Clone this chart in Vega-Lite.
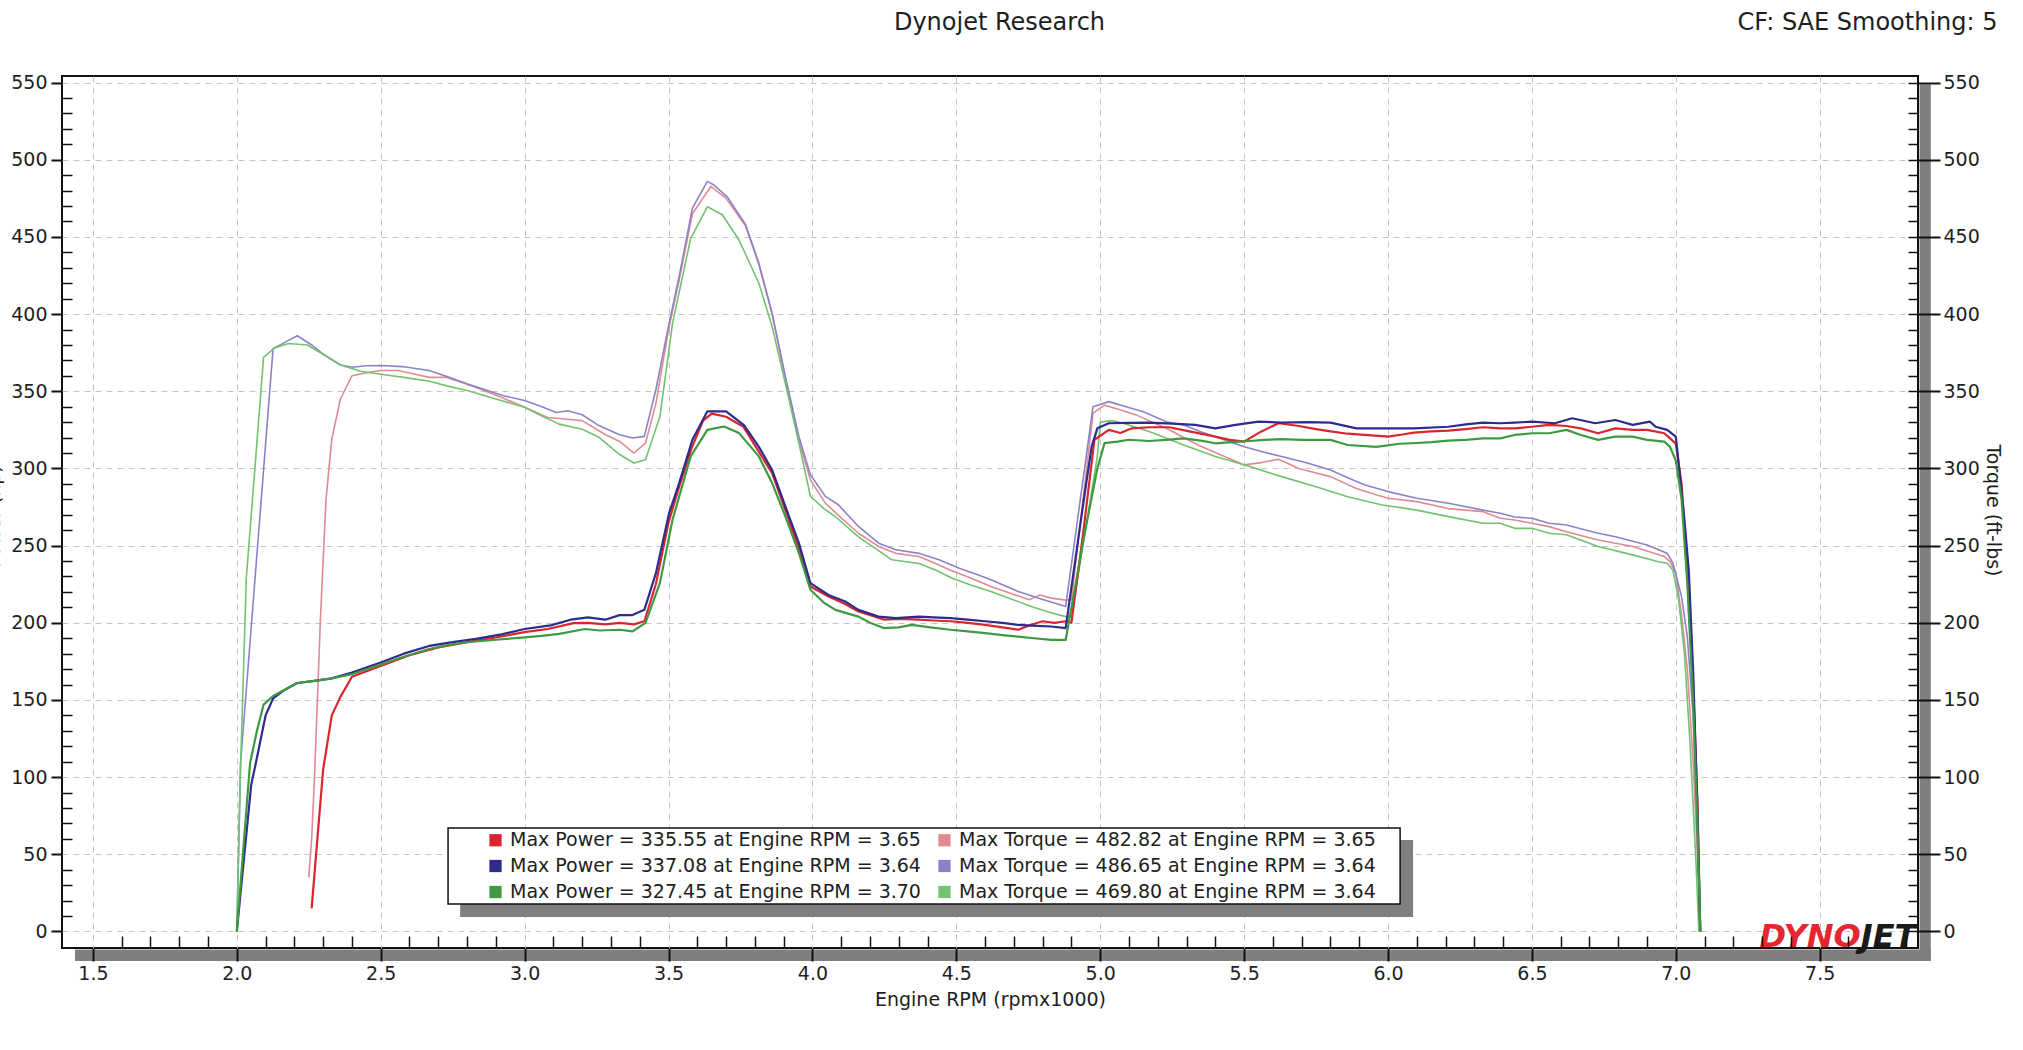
{
"$schema":"https://vega.github.io/schema/vega-lite/v6.json",
"width":1856,"height":872,
"autosize":{"type":"none"},
"padding":{"left":62,"top":76,"right":105,"bottom":102},
"background":"white",
"datasets":{
"labels":[
{"k":"P1","kind":"Power","label":"Max Power = 335.55 at Engine RPM = 3.65"},
{"k":"T1","kind":"Torque","label":"Max Torque = 482.82 at Engine RPM = 3.65"},
{"k":"P2","kind":"Power","label":"Max Power = 337.08 at Engine RPM = 3.64"},
{"k":"T2","kind":"Torque","label":"Max Torque = 486.65 at Engine RPM = 3.64"},
{"k":"P3","kind":"Power","label":"Max Power = 327.45 at Engine RPM = 3.70"},
{"k":"T3","kind":"Torque","label":"Max Torque = 469.80 at Engine RPM = 3.64"}
],
"curves":[
{"k":"P1","x":2.26,"y":15},{"k":"P1","x":2.28,"y":60},{"k":"P1","x":2.30,"y":105},{"k":"P1","x":2.33,"y":140},{"k":"P1","x":2.36,"y":152},{"k":"P1","x":2.40,"y":165},{"k":"P1","x":2.50,"y":172},{"k":"P1","x":2.60,"y":179},{"k":"P1","x":2.70,"y":184},{"k":"P1","x":2.83,"y":188.5},{"k":"P1","x":2.90,"y":190.5},{"k":"P1","x":3.00,"y":194},{"k":"P1","x":3.08,"y":196},{"k":"P1","x":3.17,"y":199.8},{"k":"P1","x":3.22,"y":200},{"k":"P1","x":3.28,"y":199},{"k":"P1","x":3.33,"y":200},{"k":"P1","x":3.38,"y":199},{"k":"P1","x":3.416,"y":201},{"k":"P1","x":3.456,"y":225},{"k":"P1","x":3.50,"y":265},{"k":"P1","x":3.54,"y":290},{"k":"P1","x":3.58,"y":313},{"k":"P1","x":3.62,"y":331},{"k":"P1","x":3.65,"y":335.5},{"k":"P1","x":3.70,"y":333.5},{"k":"P1","x":3.76,"y":327},{"k":"P1","x":3.81,"y":312},{"k":"P1","x":3.86,"y":297},{"k":"P1","x":3.906,"y":273},{"k":"P1","x":3.953,"y":248},{"k":"P1","x":3.993,"y":223.5},{"k":"P1","x":4.056,"y":217},{"k":"P1","x":4.11,"y":212.5},{"k":"P1","x":4.16,"y":207.3},{"k":"P1","x":4.25,"y":202},{"k":"P1","x":4.30,"y":202.5},{"k":"P1","x":4.37,"y":202},{"k":"P1","x":4.42,"y":201.5},{"k":"P1","x":4.48,"y":201},{"k":"P1","x":4.54,"y":200},{"k":"P1","x":4.60,"y":198.7},{"k":"P1","x":4.66,"y":197},{"k":"P1","x":4.715,"y":195.5},{"k":"P1","x":4.76,"y":198.7},{"k":"P1","x":4.80,"y":201},{"k":"P1","x":4.84,"y":200},{"k":"P1","x":4.88,"y":201},{"k":"P1","x":4.90,"y":200},{"k":"P1","x":4.94,"y":257},{"k":"P1","x":4.98,"y":318.6},{"k":"P1","x":5.03,"y":325},{"k":"P1","x":5.07,"y":323},{"k":"P1","x":5.11,"y":326},{"k":"P1","x":5.17,"y":326.7},{"k":"P1","x":5.24,"y":326.7},{"k":"P1","x":5.31,"y":324},{"k":"P1","x":5.40,"y":320.6},{"k":"P1","x":5.45,"y":318.5},{"k":"P1","x":5.50,"y":317.4},{"k":"P1","x":5.56,"y":324},{"k":"P1","x":5.62,"y":329.3},{"k":"P1","x":5.69,"y":327.5},{"k":"P1","x":5.75,"y":325.5},{"k":"P1","x":5.80,"y":324},{"k":"P1","x":5.86,"y":322.5},{"k":"P1","x":5.92,"y":321.7},{"k":"P1","x":6.00,"y":320.6},{"k":"P1","x":6.05,"y":322},{"k":"P1","x":6.09,"y":323.2},{"k":"P1","x":6.15,"y":324},{"k":"P1","x":6.21,"y":324.5},{"k":"P1","x":6.27,"y":325.5},{"k":"P1","x":6.33,"y":326.7},{"k":"P1","x":6.39,"y":326},{"k":"P1","x":6.44,"y":326},{"k":"P1","x":6.50,"y":327},{"k":"P1","x":6.56,"y":328.2},{"k":"P1","x":6.62,"y":327.5},{"k":"P1","x":6.67,"y":326},{"k":"P1","x":6.73,"y":322.8},{"k":"P1","x":6.79,"y":326},{"k":"P1","x":6.85,"y":325},{"k":"P1","x":6.90,"y":325},{"k":"P1","x":6.96,"y":322.8},{"k":"P1","x":6.98,"y":319.5},{"k":"P1","x":7.00,"y":316},{"k":"P1","x":7.02,"y":290},{"k":"P1","x":7.04,"y":235},{"k":"P1","x":7.06,"y":160},{"k":"P1","x":7.075,"y":85},{"k":"P1","x":7.085,"y":0},
{"k":"P2","x":2.00,"y":0},{"k":"P2","x":2.05,"y":95},{"k":"P2","x":2.066,"y":109},{"k":"P2","x":2.10,"y":140},{"k":"P2","x":2.126,"y":151},{"k":"P2","x":2.17,"y":157},{"k":"P2","x":2.21,"y":161},{"k":"P2","x":2.27,"y":162.4},{"k":"P2","x":2.33,"y":164},{"k":"P2","x":2.40,"y":167.8},{"k":"P2","x":2.45,"y":171},{"k":"P2","x":2.50,"y":174.3},{"k":"P2","x":2.58,"y":180},{"k":"P2","x":2.668,"y":185},{"k":"P2","x":2.75,"y":187.5},{"k":"P2","x":2.83,"y":189.6},{"k":"P2","x":2.92,"y":192.5},{"k":"P2","x":3.00,"y":196},{"k":"P2","x":3.09,"y":198.3},{"k":"P2","x":3.16,"y":202},{"k":"P2","x":3.22,"y":203.5},{"k":"P2","x":3.28,"y":202},{"k":"P2","x":3.33,"y":205},{"k":"P2","x":3.375,"y":205},{"k":"P2","x":3.416,"y":208.4},{"k":"P2","x":3.456,"y":232},{"k":"P2","x":3.502,"y":271},{"k":"P2","x":3.537,"y":290.5},{"k":"P2","x":3.583,"y":318.6},{"k":"P2","x":3.635,"y":337},{"k":"P2","x":3.70,"y":337},{"k":"P2","x":3.762,"y":328},{"k":"P2","x":3.814,"y":314},{"k":"P2","x":3.86,"y":299},{"k":"P2","x":3.906,"y":275.4},{"k":"P2","x":3.953,"y":251.6},{"k":"P2","x":3.993,"y":225.7},{"k":"P2","x":4.056,"y":218},{"k":"P2","x":4.114,"y":213.8},{"k":"P2","x":4.16,"y":208.4},{"k":"P2","x":4.23,"y":204},{"k":"P2","x":4.29,"y":203},{"k":"P2","x":4.37,"y":204},{"k":"P2","x":4.42,"y":203.5},{"k":"P2","x":4.48,"y":203},{"k":"P2","x":4.54,"y":202},{"k":"P2","x":4.60,"y":201},{"k":"P2","x":4.66,"y":200},{"k":"P2","x":4.715,"y":198.7},{"k":"P2","x":4.78,"y":198},{"k":"P2","x":4.83,"y":197.6},{"k":"P2","x":4.88,"y":196.5},{"k":"P2","x":4.934,"y":268},{"k":"P2","x":4.97,"y":314},{"k":"P2","x":4.99,"y":326},{"k":"P2","x":5.03,"y":329.3},{"k":"P2","x":5.10,"y":329.5},{"k":"P2","x":5.17,"y":329.7},{"k":"P2","x":5.25,"y":329},{"k":"P2","x":5.33,"y":328.2},{"k":"P2","x":5.40,"y":326},{"k":"P2","x":5.47,"y":328.2},{"k":"P2","x":5.55,"y":330.3},{"k":"P2","x":5.63,"y":329.7},{"k":"P2","x":5.72,"y":330},{"k":"P2","x":5.80,"y":329.7},{"k":"P2","x":5.89,"y":326},{"k":"P2","x":5.98,"y":326},{"k":"P2","x":6.09,"y":326},{"k":"P2","x":6.21,"y":327},{"k":"P2","x":6.27,"y":328.5},{"k":"P2","x":6.33,"y":329.7},{"k":"P2","x":6.39,"y":329.3},{"k":"P2","x":6.44,"y":329.7},{"k":"P2","x":6.50,"y":330.3},{"k":"P2","x":6.58,"y":329.3},{"k":"P2","x":6.64,"y":332.5},{"k":"P2","x":6.72,"y":329.3},{"k":"P2","x":6.79,"y":331.4},{"k":"P2","x":6.85,"y":328.2},{"k":"P2","x":6.91,"y":330.3},{"k":"P2","x":6.93,"y":327},{"k":"P2","x":6.97,"y":325},{"k":"P2","x":7.00,"y":320.6},{"k":"P2","x":7.01,"y":303},{"k":"P2","x":7.03,"y":266.6},{"k":"P2","x":7.045,"y":234},{"k":"P2","x":7.06,"y":170},{"k":"P2","x":7.075,"y":80},{"k":"P2","x":7.085,"y":0},
{"k":"P3","x":2.00,"y":0},{"k":"P3","x":2.046,"y":109},{"k":"P3","x":2.07,"y":130},{"k":"P3","x":2.093,"y":147},{"k":"P3","x":2.126,"y":152.6},{"k":"P3","x":2.17,"y":157},{"k":"P3","x":2.21,"y":161},{"k":"P3","x":2.27,"y":162.4},{"k":"P3","x":2.33,"y":164},{"k":"P3","x":2.40,"y":166.7},{"k":"P3","x":2.50,"y":173},{"k":"P3","x":2.58,"y":178},{"k":"P3","x":2.668,"y":183},{"k":"P3","x":2.73,"y":185.5},{"k":"P3","x":2.80,"y":187.4},{"k":"P3","x":2.90,"y":189},{"k":"P3","x":3.00,"y":190.6},{"k":"P3","x":3.06,"y":191.5},{"k":"P3","x":3.12,"y":192.8},{"k":"P3","x":3.21,"y":196},{"k":"P3","x":3.26,"y":195},{"k":"P3","x":3.33,"y":195.5},{"k":"P3","x":3.375,"y":194.4},{"k":"P3","x":3.42,"y":200},{"k":"P3","x":3.47,"y":225.7},{"k":"P3","x":3.514,"y":266.8},{"k":"P3","x":3.577,"y":307.8},{"k":"P3","x":3.635,"y":325},{"k":"P3","x":3.693,"y":327.2},{"k":"P3","x":3.745,"y":322.9},{"k":"P3","x":3.814,"y":307.8},{"k":"P3","x":3.86,"y":290.5},{"k":"P3","x":3.906,"y":269},{"k":"P3","x":3.953,"y":245.2},{"k":"P3","x":3.993,"y":221.4},{"k":"P3","x":4.04,"y":213},{"k":"P3","x":4.08,"y":208.4},{"k":"P3","x":4.16,"y":204},{"k":"P3","x":4.20,"y":200},{"k":"P3","x":4.25,"y":196.5},{"k":"P3","x":4.30,"y":197},{"k":"P3","x":4.345,"y":198.7},{"k":"P3","x":4.41,"y":197},{"k":"P3","x":4.48,"y":195.5},{"k":"P3","x":4.54,"y":194.5},{"k":"P3","x":4.60,"y":193.3},{"k":"P3","x":4.66,"y":192},{"k":"P3","x":4.715,"y":191},{"k":"P3","x":4.77,"y":190},{"k":"P3","x":4.83,"y":188.9},{"k":"P3","x":4.88,"y":188.9},{"k":"P3","x":4.945,"y":257},{"k":"P3","x":4.99,"y":300},{"k":"P3","x":5.015,"y":316.4},{"k":"P3","x":5.06,"y":317.4},{"k":"P3","x":5.10,"y":318.6},{"k":"P3","x":5.17,"y":317.8},{"k":"P3","x":5.23,"y":318.5},{"k":"P3","x":5.29,"y":319.5},{"k":"P3","x":5.35,"y":318},{"k":"P3","x":5.40,"y":316.3},{"k":"P3","x":5.46,"y":317},{"k":"P3","x":5.52,"y":317.8},{"k":"P3","x":5.57,"y":318.5},{"k":"P3","x":5.63,"y":319},{"k":"P3","x":5.70,"y":318.5},{"k":"P3","x":5.80,"y":318.5},{"k":"P3","x":5.86,"y":315.2},{"k":"P3","x":5.96,"y":314},{"k":"P3","x":6.04,"y":316},{"k":"P3","x":6.10,"y":316.5},{"k":"P3","x":6.15,"y":317},{"k":"P3","x":6.21,"y":318},{"k":"P3","x":6.27,"y":318.5},{"k":"P3","x":6.33,"y":319.5},{"k":"P3","x":6.39,"y":319.5},{"k":"P3","x":6.44,"y":321.7},{"k":"P3","x":6.50,"y":322.8},{"k":"P3","x":6.56,"y":322.8},{"k":"P3","x":6.62,"y":325},{"k":"P3","x":6.67,"y":321.7},{"k":"P3","x":6.73,"y":318.5},{"k":"P3","x":6.79,"y":320.6},{"k":"P3","x":6.85,"y":320.6},{"k":"P3","x":6.90,"y":318.5},{"k":"P3","x":6.96,"y":317.4},{"k":"P3","x":6.98,"y":314},{"k":"P3","x":7.00,"y":305},{"k":"P3","x":7.02,"y":280},{"k":"P3","x":7.04,"y":225},{"k":"P3","x":7.06,"y":150},{"k":"P3","x":7.075,"y":70},{"k":"P3","x":7.085,"y":0},
{"k":"T1","x":2.25,"y":35},{"k":"T1","x":2.26,"y":60},{"k":"T1","x":2.27,"y":100},{"k":"T1","x":2.29,"y":200},{"k":"T1","x":2.31,"y":280},{"k":"T1","x":2.33,"y":319},{"k":"T1","x":2.36,"y":345},{"k":"T1","x":2.40,"y":360},{"k":"T1","x":2.45,"y":362},{"k":"T1","x":2.50,"y":363.5},{"k":"T1","x":2.56,"y":363.5},{"k":"T1","x":2.62,"y":361},{"k":"T1","x":2.668,"y":359},{"k":"T1","x":2.73,"y":359},{"k":"T1","x":2.83,"y":352.6},{"k":"T1","x":2.92,"y":346},{"k":"T1","x":3.00,"y":339.6},{"k":"T1","x":3.08,"y":333},{"k":"T1","x":3.14,"y":332},{"k":"T1","x":3.20,"y":331},{"k":"T1","x":3.28,"y":322},{"k":"T1","x":3.33,"y":317.5},{"k":"T1","x":3.38,"y":310},{"k":"T1","x":3.42,"y":316.4},{"k":"T1","x":3.456,"y":342},{"k":"T1","x":3.50,"y":389.8},{"k":"T1","x":3.537,"y":422},{"k":"T1","x":3.583,"y":465},{"k":"T1","x":3.647,"y":482.7},{"k":"T1","x":3.70,"y":475},{"k":"T1","x":3.768,"y":457},{"k":"T1","x":3.814,"y":432},{"k":"T1","x":3.86,"y":400},{"k":"T1","x":3.906,"y":358},{"k":"T1","x":3.953,"y":318},{"k":"T1","x":3.993,"y":292.6},{"k":"T1","x":4.045,"y":277.5},{"k":"T1","x":4.10,"y":268},{"k":"T1","x":4.16,"y":258},{"k":"T1","x":4.23,"y":249.5},{"k":"T1","x":4.29,"y":245},{"k":"T1","x":4.37,"y":243},{"k":"T1","x":4.42,"y":239},{"k":"T1","x":4.48,"y":234},{"k":"T1","x":4.55,"y":229},{"k":"T1","x":4.62,"y":223.5},{"k":"T1","x":4.69,"y":219},{"k":"T1","x":4.755,"y":215},{"k":"T1","x":4.79,"y":218},{"k":"T1","x":4.83,"y":216},{"k":"T1","x":4.88,"y":214.7},{"k":"T1","x":4.90,"y":215},{"k":"T1","x":4.975,"y":335.8},{"k":"T1","x":5.015,"y":341},{"k":"T1","x":5.06,"y":338.5},{"k":"T1","x":5.125,"y":334.7},{"k":"T1","x":5.18,"y":330},{"k":"T1","x":5.23,"y":326},{"k":"T1","x":5.29,"y":320},{"k":"T1","x":5.34,"y":315.2},{"k":"T1","x":5.42,"y":308.7},{"k":"T1","x":5.50,"y":302.3},{"k":"T1","x":5.56,"y":303.8},{"k":"T1","x":5.62,"y":306},{"k":"T1","x":5.69,"y":300},{"k":"T1","x":5.75,"y":297},{"k":"T1","x":5.80,"y":294.7},{"k":"T1","x":5.89,"y":287},{"k":"T1","x":5.95,"y":283.5},{"k":"T1","x":6.00,"y":280.7},{"k":"T1","x":6.10,"y":278.5},{"k":"T1","x":6.21,"y":274},{"k":"T1","x":6.33,"y":272},{"k":"T1","x":6.39,"y":267.7},{"k":"T1","x":6.44,"y":266.6},{"k":"T1","x":6.50,"y":264.5},{"k":"T1","x":6.56,"y":262.3},{"k":"T1","x":6.62,"y":259},{"k":"T1","x":6.73,"y":253.7},{"k":"T1","x":6.85,"y":249.4},{"k":"T1","x":6.96,"y":242.9},{"k":"T1","x":6.98,"y":239.6},{"k":"T1","x":7.00,"y":232},{"k":"T1","x":7.02,"y":205},{"k":"T1","x":7.04,"y":170},{"k":"T1","x":7.06,"y":110},{"k":"T1","x":7.075,"y":50},{"k":"T1","x":7.085,"y":0},
{"k":"T2","x":2.00,"y":0},{"k":"T2","x":2.013,"y":109},{"k":"T2","x":2.126,"y":377.6},{"k":"T2","x":2.17,"y":382},{"k":"T2","x":2.21,"y":386},{"k":"T2","x":2.26,"y":380},{"k":"T2","x":2.30,"y":374},{"k":"T2","x":2.36,"y":367},{"k":"T2","x":2.40,"y":365.6},{"k":"T2","x":2.45,"y":366.5},{"k":"T2","x":2.50,"y":366.7},{"k":"T2","x":2.575,"y":366},{"k":"T2","x":2.668,"y":363.5},{"k":"T2","x":2.73,"y":359.5},{"k":"T2","x":2.80,"y":354.8},{"k":"T2","x":2.87,"y":350.5},{"k":"T2","x":2.93,"y":347},{"k":"T2","x":3.00,"y":344},{"k":"T2","x":3.06,"y":340},{"k":"T2","x":3.11,"y":336.3},{"k":"T2","x":3.15,"y":337.4},{"k":"T2","x":3.20,"y":334.8},{"k":"T2","x":3.26,"y":327.6},{"k":"T2","x":3.33,"y":321.8},{"k":"T2","x":3.375,"y":319.7},{"k":"T2","x":3.416,"y":320.8},{"k":"T2","x":3.456,"y":351},{"k":"T2","x":3.502,"y":394},{"k":"T2","x":3.537,"y":424.4},{"k":"T2","x":3.583,"y":468.7},{"k":"T2","x":3.635,"y":486},{"k":"T2","x":3.658,"y":483.6},{"k":"T2","x":3.704,"y":476},{"k":"T2","x":3.768,"y":457.9},{"k":"T2","x":3.814,"y":433},{"k":"T2","x":3.86,"y":400.6},{"k":"T2","x":3.906,"y":359.6},{"k":"T2","x":3.953,"y":320.7},{"k":"T2","x":3.993,"y":295.9},{"k":"T2","x":4.045,"y":281.9},{"k":"T2","x":4.09,"y":276.5},{"k":"T2","x":4.16,"y":262.4},{"k":"T2","x":4.23,"y":251.6},{"k":"T2","x":4.29,"y":247.3},{"k":"T2","x":4.37,"y":245},{"k":"T2","x":4.44,"y":240.8},{"k":"T2","x":4.51,"y":235.4},{"k":"T2","x":4.57,"y":231.5},{"k":"T2","x":4.62,"y":227.9},{"k":"T2","x":4.715,"y":220.3},{"k":"T2","x":4.784,"y":216},{"k":"T2","x":4.88,"y":210.6},{"k":"T2","x":4.975,"y":340},{"k":"T2","x":5.03,"y":343.3},{"k":"T2","x":5.09,"y":340},{"k":"T2","x":5.15,"y":336.8},{"k":"T2","x":5.23,"y":330.3},{"k":"T2","x":5.29,"y":328.2},{"k":"T2","x":5.34,"y":324.5},{"k":"T2","x":5.40,"y":320.6},{"k":"T2","x":5.50,"y":314},{"k":"T2","x":5.57,"y":310.5},{"k":"T2","x":5.63,"y":307.7},{"k":"T2","x":5.72,"y":303.5},{"k":"T2","x":5.80,"y":299},{"k":"T2","x":5.86,"y":294},{"k":"T2","x":5.92,"y":289.3},{"k":"T2","x":6.00,"y":285},{"k":"T2","x":6.10,"y":280.7},{"k":"T2","x":6.21,"y":277.4},{"k":"T2","x":6.33,"y":273},{"k":"T2","x":6.39,"y":271},{"k":"T2","x":6.44,"y":268.5},{"k":"T2","x":6.50,"y":267.7},{"k":"T2","x":6.56,"y":264.5},{"k":"T2","x":6.62,"y":263.4},{"k":"T2","x":6.73,"y":258},{"k":"T2","x":6.79,"y":255.8},{"k":"T2","x":6.90,"y":250.4},{"k":"T2","x":6.97,"y":245},{"k":"T2","x":6.99,"y":238.6},{"k":"T2","x":7.02,"y":217},{"k":"T2","x":7.04,"y":191},{"k":"T2","x":7.06,"y":140},{"k":"T2","x":7.075,"y":60},{"k":"T2","x":7.085,"y":0},
{"k":"T3","x":2.00,"y":0},{"k":"T3","x":2.012,"y":100},{"k":"T3","x":2.033,"y":229},{"k":"T3","x":2.093,"y":372},{"k":"T3","x":2.13,"y":378},{"k":"T3","x":2.18,"y":381},{"k":"T3","x":2.245,"y":380},{"k":"T3","x":2.30,"y":374},{"k":"T3","x":2.36,"y":367},{"k":"T3","x":2.43,"y":363},{"k":"T3","x":2.50,"y":361},{"k":"T3","x":2.58,"y":359},{"k":"T3","x":2.67,"y":356.5},{"k":"T3","x":2.73,"y":353.5},{"k":"T3","x":2.80,"y":350.5},{"k":"T3","x":2.90,"y":345},{"k":"T3","x":3.00,"y":339.6},{"k":"T3","x":3.06,"y":334},{"k":"T3","x":3.12,"y":328.7},{"k":"T3","x":3.20,"y":325.4},{"k":"T3","x":3.26,"y":320},{"k":"T3","x":3.33,"y":309},{"k":"T3","x":3.38,"y":303.5},{"k":"T3","x":3.42,"y":305.6},{"k":"T3","x":3.47,"y":333.5},{"k":"T3","x":3.514,"y":394},{"k":"T3","x":3.577,"y":449},{"k":"T3","x":3.635,"y":469.5},{"k":"T3","x":3.687,"y":464.4},{"k":"T3","x":3.745,"y":448},{"k":"T3","x":3.814,"y":420},{"k":"T3","x":3.86,"y":392},{"k":"T3","x":3.906,"y":355},{"k":"T3","x":3.953,"y":316.4},{"k":"T3","x":3.993,"y":282},{"k":"T3","x":4.04,"y":274},{"k":"T3","x":4.08,"y":268.7},{"k":"T3","x":4.16,"y":255.7},{"k":"T3","x":4.22,"y":248},{"k":"T3","x":4.276,"y":240.8},{"k":"T3","x":4.37,"y":238.4},{"k":"T3","x":4.43,"y":234},{"k":"T3","x":4.484,"y":229},{"k":"T3","x":4.55,"y":224.5},{"k":"T3","x":4.62,"y":220.3},{"k":"T3","x":4.69,"y":215.5},{"k":"T3","x":4.76,"y":210.6},{"k":"T3","x":4.82,"y":207},{"k":"T3","x":4.88,"y":204},{"k":"T3","x":4.90,"y":204},{"k":"T3","x":4.99,"y":307.8},{"k":"T3","x":5.00,"y":330},{"k":"T3","x":5.04,"y":331},{"k":"T3","x":5.08,"y":329.3},{"k":"T3","x":5.17,"y":324},{"k":"T3","x":5.29,"y":315.2},{"k":"T3","x":5.40,"y":307.7},{"k":"T3","x":5.52,"y":301.2},{"k":"T3","x":5.63,"y":294.7},{"k":"T3","x":5.75,"y":288.2},{"k":"T3","x":5.86,"y":281.7},{"k":"T3","x":5.98,"y":276.3},{"k":"T3","x":6.10,"y":273},{"k":"T3","x":6.21,"y":268.8},{"k":"T3","x":6.33,"y":264.5},{"k":"T3","x":6.39,"y":264.5},{"k":"T3","x":6.44,"y":261.2},{"k":"T3","x":6.50,"y":261.2},{"k":"T3","x":6.56,"y":258},{"k":"T3","x":6.62,"y":257},{"k":"T3","x":6.73,"y":249.4},{"k":"T3","x":6.85,"y":244},{"k":"T3","x":6.94,"y":239.6},{"k":"T3","x":6.97,"y":238.6},{"k":"T3","x":6.99,"y":234},{"k":"T3","x":7.01,"y":215},{"k":"T3","x":7.03,"y":180},{"k":"T3","x":7.05,"y":120},{"k":"T3","x":7.07,"y":45},{"k":"T3","x":7.08,"y":0}
]
},
"config":{
"font":"DejaVu Sans",
"view":{"stroke":"#111111","strokeWidth":2},
"axis":{"labelFont":"DejaVu Sans","labelFontSize":19,"labelColor":"#1e1e1e","titleFont":"DejaVu Sans","titleFontSize":19,"titleFontWeight":"normal","titleColor":"#1e1e1e","tickColor":"#111111","labelFlush":false,"labelOverlap":false,"domain":false,"grid":false},
"legend":{"labelFont":"DejaVu Sans","labelColor":"#1e1e1e"}
},
"resolve":{"axis":{"x":"independent","y":"independent"}},
"layer":[
{"data":{"values":[{}]},"mark":{"type":"rect","fill":"#7f7f7f"},
"encoding":{
"x":{"datum":7.847,"type":"quantitative","scale":{"domain":[1.3926,7.8415],"nice":false,"zero":false},
"axis":{"orient":"bottom","values":[1.5,2,2.5,3,3.5,4,4.5,5,5.5,6,6.5,7,7.5],"grid":true,"gridDash":[6,5],"gridColor":"#c4c4c4","gridWidth":1,"ticks":false,"labels":false,"domain":false,"title":null,"zindex":0}},
"x2":{"datum":7.886},
"y":{"datum":548.8,"type":"quantitative","scale":{"domain":[-10.69,554.26],"nice":false,"zero":false},
"axis":{"orient":"left","values":[0,50,100,150,200,250,300,350,400,450,500,550],"grid":true,"gridDash":[6,5],"gridColor":"#c4c4c4","gridWidth":1,"ticks":false,"labels":false,"domain":false,"title":null,"zindex":0}},
"y2":{"datum":-19.1}}},
{"data":{"values":[{}]},"mark":{"type":"rect","fill":"#7f7f7f"},
"encoding":{
"x":{"datum":1.438,"type":"quantitative","scale":{"domain":[1.3926,7.8415],"nice":false,"zero":false},
"axis":{"orient":"bottom","values":[1.5,2,2.5,3,3.5,4,4.5,5,5.5,6,6.5,7,7.5],"format":".1f","ticks":true,"tickSize":13,"tickWidth":2,"labelPadding":3,"title":"Engine RPM (rpmx1000)","titlePadding":7,"zindex":1}},
"x2":{"datum":7.886},
"y":{"datum":-11.66,"type":"quantitative","scale":{"domain":[-10.69,554.26],"nice":false,"zero":false},
"axis":{"orient":"left","values":[0,50,100,150,200,250,300,350,400,450,500,550],"ticks":true,"tickSize":11,"tickWidth":2,"labelPadding":4,"title":"Power (hp)","titleX":-59,"titleY":440,"titleAngle":-90,"titleBaseline":"bottom","titleAlign":"center","zindex":1}},
"y2":{"datum":-19.1}}},
{"data":{"values":[{}]},"mark":{"type":"rect","fill":"#7f7f7f"},
"encoding":{
"x":{"datum":2.776,"type":"quantitative","scale":{"domain":[1.3926,7.8415],"nice":false,"zero":false},
"axis":{"orient":"bottom","values":[1.6,1.7,1.8,1.9,2.1,2.2,2.3,2.4,2.6,2.7,2.8,2.9,3.1,3.2,3.3,3.4,3.6,3.7,3.8,3.9,4.1,4.2,4.3,4.4,4.6,4.7,4.8,4.9,5.1,5.2,5.3,5.4,5.6,5.7,5.8,5.9,6.1,6.2,6.3,6.4,6.6,6.7,6.8,6.9,7.1,7.2,7.3,7.4,7.6,7.7,7.8],"ticks":true,"tickSize":-12,"tickWidth":1.5,"labels":false,"title":null,"zindex":1}},
"x2":{"datum":6.087},
"y":{"datum":59.3,"type":"quantitative","scale":{"domain":[-10.69,554.26],"nice":false,"zero":false},
"axis":{"orient":"left","values":[10,20,30,40,60,70,80,90,110,120,130,140,160,170,180,190,210,220,230,240,260,270,280,290,310,320,330,340,360,370,380,390,410,420,430,440,460,470,480,490,510,520,530,540],"ticks":true,"tickSize":-10,"tickWidth":1.5,"labels":false,"title":null,"zindex":1}},
"y2":{"datum":9.4}}},
{"data":{"values":[{}]},"mark":{"type":"rect","fill":"#ffffff","stroke":"#111111","strokeWidth":1.5},
"encoding":{
"x":{"datum":2.734,"type":"quantitative","scale":{"domain":[1.3926,7.8415],"nice":false,"zero":false},
"axis":{"orient":"top","ticks":false,"labels":false,"title":"CF: SAE Smoothing: 5","titleX":1935,"titleY":-46.5,"titleAlign":"right","titleAngle":0,"titleBaseline":"alphabetic","titleFontSize":24,"zindex":1}},
"x2":{"datum":6.042},
"y":{"datum":67.06,"type":"quantitative","scale":{"domain":[-10.69,554.26],"nice":false,"zero":false},
"axis":{"orient":"right","values":[0,50,100,150,200,250,300,350,400,450,500,550],"ticks":true,"tickSize":22,"tickWidth":2,"labelPadding":3,"title":"Torque (ft-lbs)","titleX":74,"titleY":434,"titleAngle":90,"titleBaseline":"middle","titleAlign":"center","zindex":1}},
"y2":{"datum":17.8}}},
{"data":{"name":"curves"},
"transform":[{"lookup":"k","from":{"data":{"name":"labels"},"key":"k","fields":["label","kind"]}},{"filter":"datum.kind === 'Torque'"}],
"mark":{"type":"line","strokeWidth":1.6,"strokeJoin":"round"},
"encoding":{
"x":{"field":"x","type":"quantitative","scale":{"domain":[1.3926,7.8415],"nice":false,"zero":false},
"axis":{"orient":"top","ticks":false,"labels":false,"title":"Dynojet Research","titleX":937,"titleY":-46.5,"titleAlign":"center","titleAngle":0,"titleBaseline":"alphabetic","titleFontSize":24,"zindex":1}},
"y":{"field":"y","type":"quantitative","scale":{"domain":[-10.69,554.26],"nice":false,"zero":false},
"axis":{"orient":"right","values":[0,10,20,30,40,50,60,70,80,90,100,110,120,130,140,150,160,170,180,190,200,210,220,230,240,250,260,270,280,290,300,310,320,330,340,350,360,370,380,390,400,410,420,430,440,450,460,470,480,490,500,510,520,530,540,550],"ticks":true,"tickSize":-10,"tickWidth":1.5,"labels":false,"title":null,"zindex":1}},
"color":{"field":"label","type":"nominal",
"scale":{"domain":["Max Power = 335.55 at Engine RPM = 3.65","Max Power = 337.08 at Engine RPM = 3.64","Max Power = 327.45 at Engine RPM = 3.70","Max Torque = 482.82 at Engine RPM = 3.65","Max Torque = 486.65 at Engine RPM = 3.64","Max Torque = 469.80 at Engine RPM = 3.64"],
"range":["#d9262e","#2f2a8f","#3d9a40","#e08a92","#8c82c9","#72c272"]},
"legend":{"orient":"none","legendX":424,"legendY":754.5,"columns":2,"title":null,"symbolType":"square","symbolSize":150,"symbolStrokeWidth":0,"labelFontSize":19,"labelOffset":5,"columnPadding":14,"rowPadding":6,"labelLimit":1000,"padding":0,
"encode":{"symbols":{"update":{"fill":{"scale":"color","field":"value"},"fillOpacity":{"value":1},"stroke":{"value":"transparent"}}}}}}}},
{"data":{"name":"curves"},
"transform":[{"lookup":"k","from":{"data":{"name":"labels"},"key":"k","fields":["label","kind"]}},{"filter":"datum.kind === 'Power'"}],
"mark":{"type":"line","strokeWidth":2.2,"strokeJoin":"round"},
"encoding":{
"x":{"field":"x","type":"quantitative","scale":{"domain":[1.3926,7.8415],"nice":false,"zero":false},"axis":null},
"y":{"field":"y","type":"quantitative","scale":{"domain":[-10.69,554.26],"nice":false,"zero":false},"axis":null},
"color":{"field":"label","type":"nominal",
"scale":{"domain":["Max Power = 335.55 at Engine RPM = 3.65","Max Power = 337.08 at Engine RPM = 3.64","Max Power = 327.45 at Engine RPM = 3.70","Max Torque = 482.82 at Engine RPM = 3.65","Max Torque = 486.65 at Engine RPM = 3.64","Max Torque = 469.80 at Engine RPM = 3.64"],
"range":["#d9262e","#2f2a8f","#3d9a40","#e08a92","#8c82c9","#72c272"]},
"legend":{"orient":"none","legendX":424,"legendY":754.5,"columns":2,"title":null,"symbolType":"square","symbolSize":150,"symbolStrokeWidth":0,"labelFontSize":19,"labelOffset":5,"columnPadding":14,"rowPadding":6,"labelLimit":1000,"padding":0,
"encode":{"symbols":{"update":{"fill":{"scale":"color","field":"value"},"fillOpacity":{"value":1},"stroke":{"value":"transparent"}}}}}}}},
{"data":{"values":[{}]},"mark":{"type":"text","text":"DYNO","align":"right","baseline":"alphabetic","font":"DejaVu Sans","fontSize":32,"fontWeight":"bold","fontStyle":"italic","color":"#e3262f"},
"encoding":{
"x":{"datum":7.6425,"type":"quantitative","scale":{"domain":[1.3926,7.8415],"nice":false,"zero":false},"axis":null},
"y":{"datum":-10.04,"type":"quantitative","scale":{"domain":[-10.69,554.26],"nice":false,"zero":false},"axis":null}}},
{"data":{"values":[{}]},"mark":{"type":"text","text":"JET","align":"left","baseline":"alphabetic","font":"DejaVu Sans","fontSize":32,"fontWeight":"bold","fontStyle":"italic","color":"#1a1a1a"},
"encoding":{
"x":{"datum":7.6425,"type":"quantitative","scale":{"domain":[1.3926,7.8415],"nice":false,"zero":false},"axis":null},
"y":{"datum":-10.04,"type":"quantitative","scale":{"domain":[-10.69,554.26],"nice":false,"zero":false},"axis":null}}}
]
}
